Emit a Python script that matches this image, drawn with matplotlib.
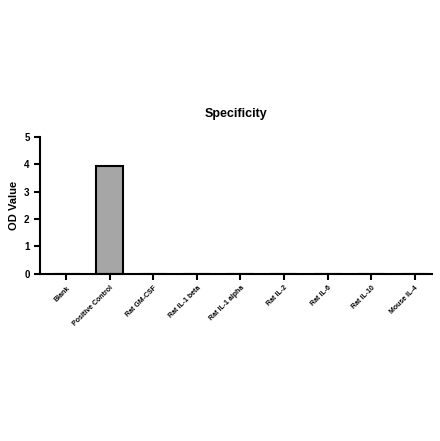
import matplotlib
matplotlib.use("Agg")
import matplotlib.pyplot as plt

CATEGORIES = ["Blank", "Positive Control", "Rat GM-CSF", "Rat IL-1 beta",
              "Rat IL-1 alpha", "Rat IL-2", "Rat IL-6", "Rat IL-10", "Mouse IL-4"]
OD_VALUES = [0, 3.93, 0, 0, 0, 0, 0, 0, 0]

plt.rcParams["font.family"] = ["Liberation Sans", "DejaVu Sans"]

fig = plt.figure(figsize=(4.4, 4.41), dpi=100)
ax = fig.add_axes([0.091, 0.379, 0.891, 0.311])

x = range(len(CATEGORIES))
ax.bar(x, OD_VALUES, width=0.62, color="#a6a6a6", edgecolor="black", linewidth=1.5)

ax.set_xlim(-0.6, 8.4)
ax.set_ylim(0, 5)
ax.set_yticks(range(6))
ax.set_xticks(list(x))
ax.set_xticklabels(CATEGORIES, rotation=45, ha="right", rotation_mode="anchor",
                   fontsize=5, fontweight="bold")
for lbl in ax.get_yticklabels():
    lbl.set_fontweight("bold")
    lbl.set_fontsize(7)
ax.set_ylabel("OD Value", fontsize=8, fontweight="bold")
ax.set_title("Specificity", fontsize=9, fontweight="bold", pad=14)

for side in ("top", "right"):
    ax.spines[side].set_visible(False)
for side in ("left", "bottom"):
    ax.spines[side].set_linewidth(1.5)
ax.tick_params(width=1.5, length=4)

fig.savefig("out.png", dpi=100)
